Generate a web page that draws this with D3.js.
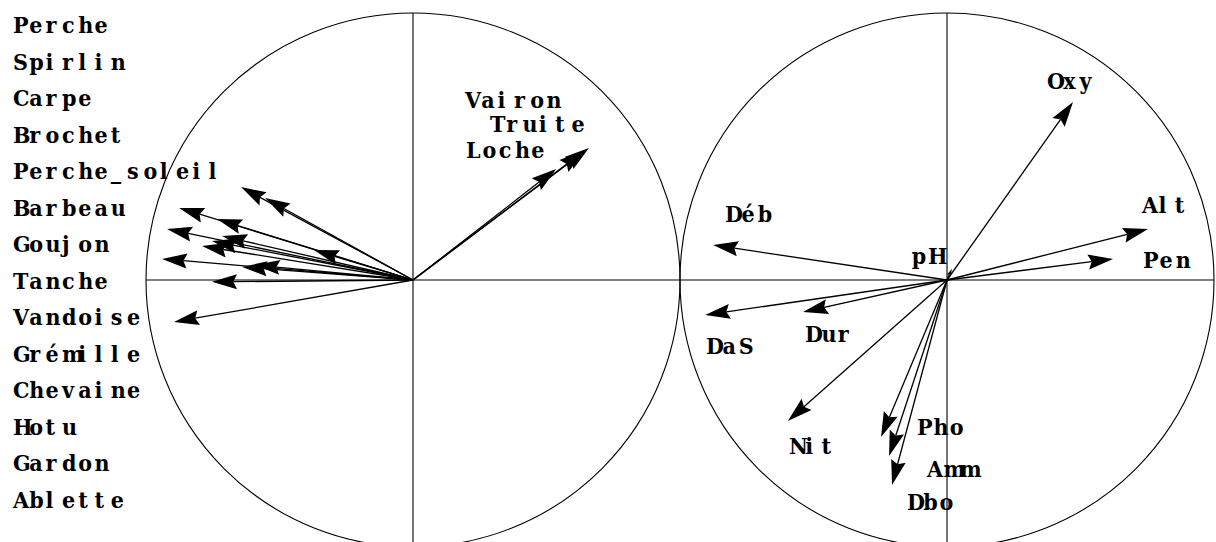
<!DOCTYPE html>
<html>
<head>
<meta charset="utf-8">
<script src="https://cdn.jsdelivr.net/npm/d3@7"></script>
<style>
  html, body { margin: 0; padding: 0; background: #fff; }
  svg text { font-family: "DejaVu Serif Condensed", "DejaVu Serif", serif; font-stretch: condensed; font-weight: bold; font-size: 23px; fill: #000; }
</style>
</head>
<body>
<svg id="chart" width="1216" height="542"></svg>
<script>
// Species (fish) loadings on the first two axes
const fishList = ["Perche", "Spirlin", "Carpe", "Brochet", "Perche_soleil", "Barbeau", "Goujon",
  "Tanche", "Vandoise", "Grémille", "Chevaine", "Hotu", "Gardon", "Ablette"];
const fishX = [-0.644, -0.554, -0.876, -0.734, -0.921, -0.715, -0.753,
  -0.790, -0.940, -0.640, -0.592, -0.371, -0.753, -0.895];
const fishY = [0.348, 0.307, 0.270, 0.228, 0.191, 0.165, 0.146,
  0.127, 0.079, 0.049, 0.056, 0.112, -0.007, -0.157];

// Upstream species, labelled inside the circle
const upFish = ["Vairon", "Truite", "Loche"];
const upX = [0.659, 0.640, 0.536];
const upY = [0.494, 0.483, 0.416];

// Environmental variables
const envVars = ["Déb", "DaS", "Dur", "Nit", "Pho", "Amm", "Dbo", "Oxy", "Alt", "Pen", "pH"];
const envX = [-0.876, -0.906, -0.539, -0.596, -0.247, -0.217, -0.206, 0.472, 0.753, 0.622, 0.018];
const envY = [0.131, -0.131, -0.120, -0.528, -0.588, -0.659, -0.768, 0.667, 0.191, 0.079, 0.042];

// ---- layout ----
const R = 267;
const leftCx = 413, rightCx = 947, cy = 280;
const pitch = 16.3;          // fixed character advance
const headLen = 25, headHalf = 7.5, notch = 3.5;

// Label offsets from the arrow tip, in pixels
const upLabelOffset = { "Vairon": [-124, -40], "Truite": [-94, -19], "Loche": [-90, -11] };
const envLabelOffset = {
  "Déb": [12, -23], "DaS": [1, 39], "Dur": [2, 30], "Nit": [1, 33], "Pho": [36, -2],
  "Amm": [38, 21], "Dbo": [15, 25], "Oxy": [-26, -13], "Alt": [-6, -16], "Pen": [30, 9], "pH": [-40, -5]
};

const svg = d3.select("#chart");

const yScale = d3.scaleLinear().domain([-1, 1]).range([cy + R, cy - R]);
const xLeft = d3.scaleLinear().domain([-1, 1]).range([leftCx - R, leftCx + R]);
const xRight = d3.scaleLinear().domain([-1, 1]).range([rightCx - R, rightCx + R]);

// text with every character placed on a fixed pitch
function monoText(g, str, x, y) {
  const chars = Array.from(str);
  g.append("text")
    .attr("x", chars.map((c, i) => (x + i * pitch).toFixed(1)).join(" "))
    .attr("y", y)
    .text(str);
}

function drawFrame(xs) {
  const g = svg.append("g");
  g.append("circle")
    .attr("cx", xs(0)).attr("cy", yScale(0)).attr("r", xs(1) - xs(0))
    .attr("fill", "none").attr("stroke", "#000").attr("stroke-width", 1.1);
  g.append("line")
    .attr("x1", xs(-1)).attr("x2", xs(1)).attr("y1", yScale(0)).attr("y2", yScale(0))
    .attr("stroke", "#000").attr("stroke-width", 1.1);
  g.append("line")
    .attr("x1", xs(0)).attr("x2", xs(0)).attr("y1", yScale(1)).attr("y2", yScale(-1))
    .attr("stroke", "#000").attr("stroke-width", 1.1);
  return g;
}

function drawArrows(g, xs, xv, yv) {
  const data = xv.map((v, i) => ({ x: v, y: yv[i] }));
  const ox = xs(0), oy = yScale(0);
  data.forEach(d => {
    const tx = xs(d.x), ty = yScale(d.y);
    const dx = tx - ox, dy = ty - oy;
    const len = Math.hypot(dx, dy);
    const ux = dx / len, uy = dy / len;
    const k = Math.min(1, len * 0.6 / headLen);
    const hl = headLen * k, hh = headHalf * k;
    const bx = tx - ux * hl, by = ty - uy * hl;
    g.append("line")
      .attr("x1", ox).attr("y1", oy).attr("x2", bx + ux * notch * k).attr("y2", by + uy * notch * k)
      .attr("stroke", "#000").attr("stroke-width", 1.3);
    g.append("path")
      .attr("d", d3.line()([[tx, ty], [bx - uy * hh, by + ux * hh],
        [bx + ux * notch * k, by + uy * notch * k], [bx + uy * hh, by - ux * hh]]) + "Z")
      .attr("fill", "#000");
  });
}

// left circle: species
const gL = drawFrame(xLeft);
drawArrows(gL, xLeft, fishX, fishY);
drawArrows(gL, xLeft, upX, upY);
upFish.forEach((name, i) => {
  const o = upLabelOffset[name];
  monoText(gL, name, xLeft(upX[i]) + o[0], yScale(upY[i]) + o[1]);
});

// species list
const gList = svg.append("g");
fishList.forEach((name, i) => monoText(gList, name, 13, 33 + i * 36.5));

// right circle: environmental variables
const gR = drawFrame(xRight);
drawArrows(gR, xRight, envX, envY);
envVars.forEach((name, i) => {
  const o = envLabelOffset[name];
  monoText(gR, name, xRight(envX[i]) + o[0], yScale(envY[i]) + o[1]);
});
</script>
</body>
</html>
